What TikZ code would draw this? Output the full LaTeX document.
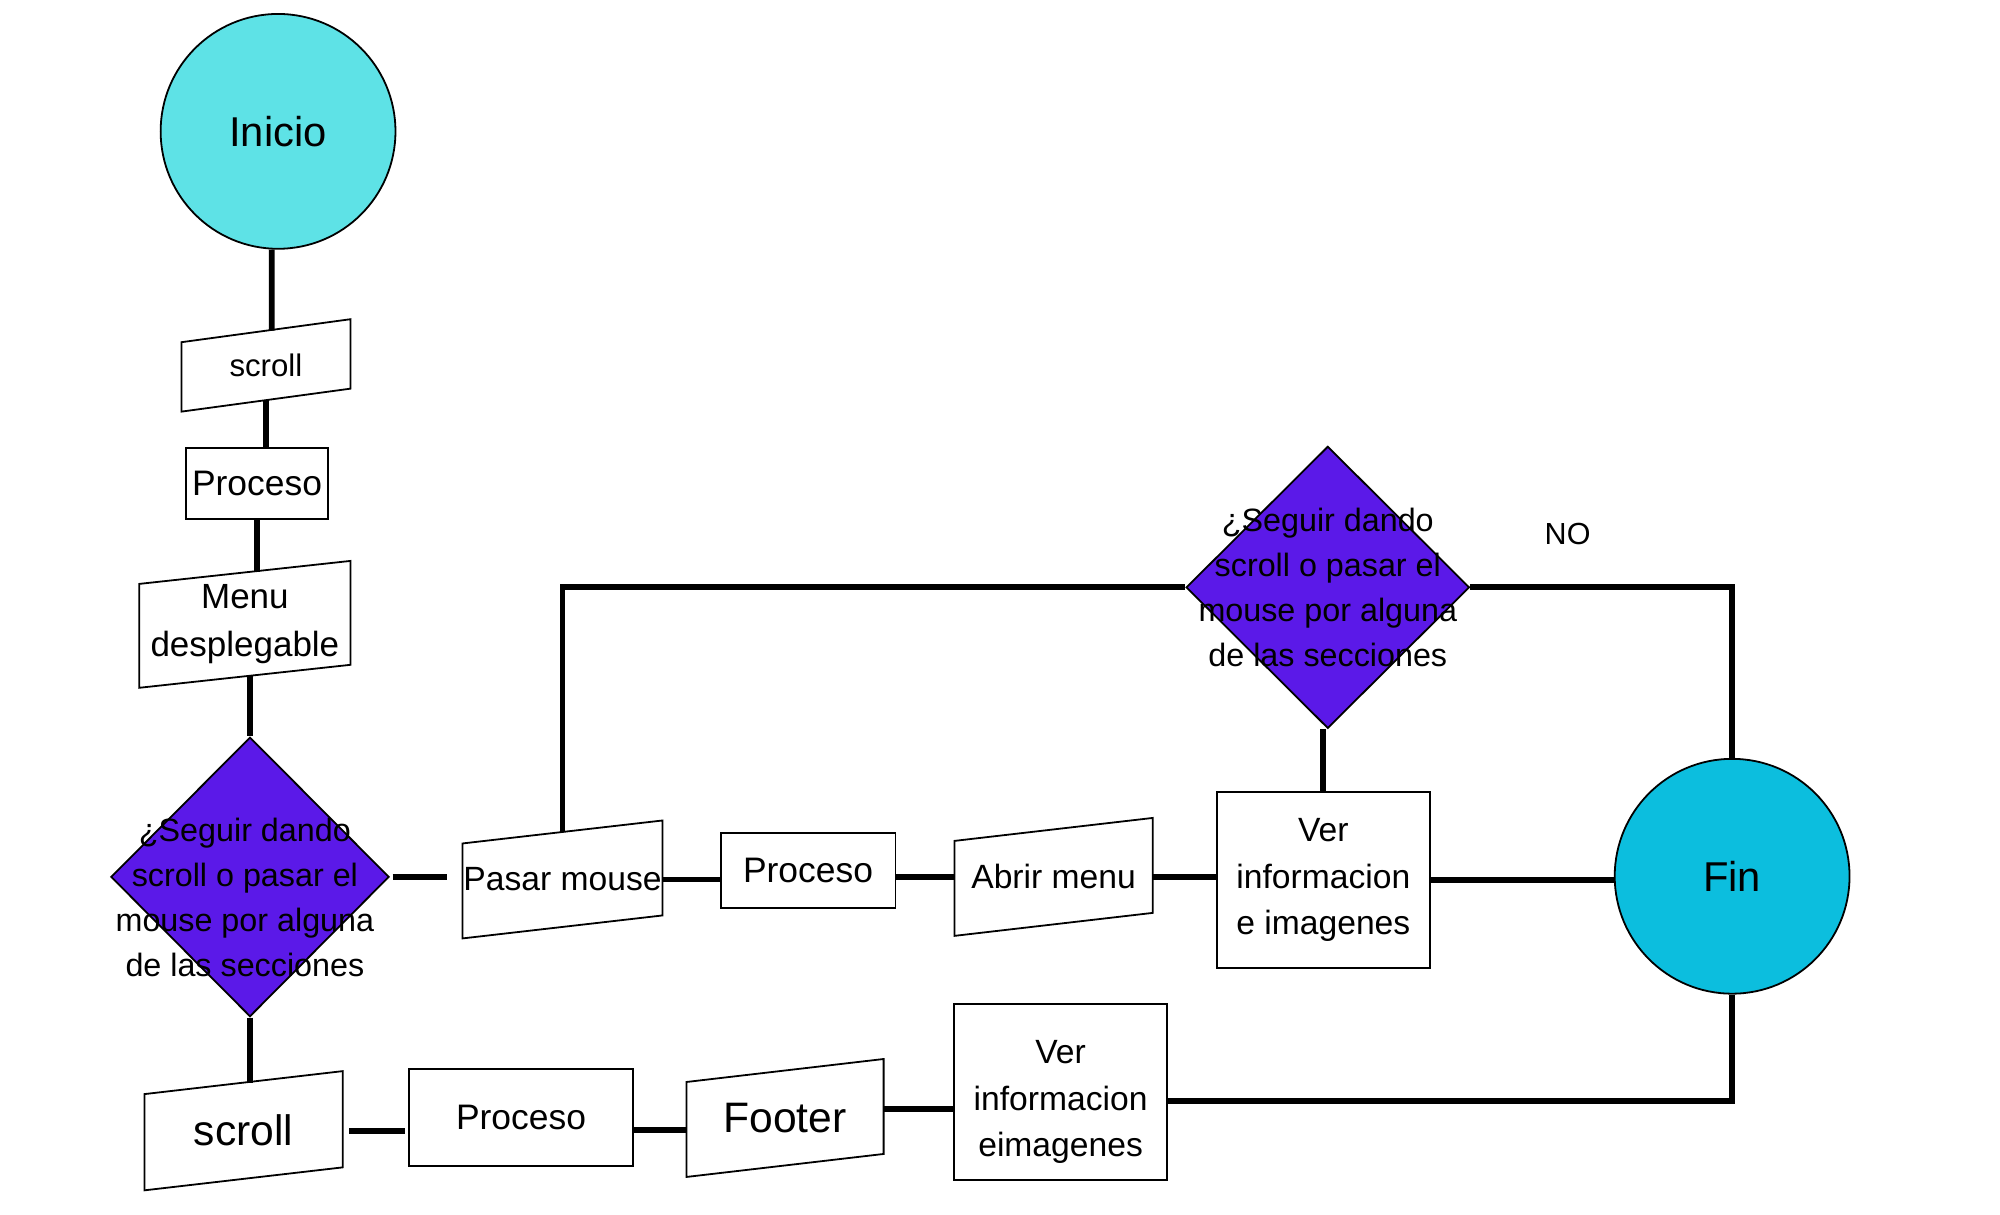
\documentclass[tikz,border=0pt]{standalone}
\usepackage{fontspec}
\setmainfont{Liberation Sans}
\usetikzlibrary{shapes.geometric}
\definecolor{cielo}{RGB}{94,226,230}
\definecolor{celeste}{RGB}{12,190,222}
\definecolor{morado}{RGB}{91,25,232}
\newcommand\fsz[2]{\fontsize{#1}{#2}\selectfont}
% paralelogramo (entrada/salida) alrededor de un nodo
\newcommand\iobox[1]{\draw[line width=0.4pt] ([yshift=-0.09cm]#1.north west) -- ([yshift=0.09cm]#1.north east) -- ([yshift=0.09cm]#1.south east) -- ([yshift=-0.09cm]#1.south west) -- cycle;}
\tikzset{
  proc/.style={draw, line width=0.4pt, inner sep=0pt, align=center},
  io/.style={inner sep=0pt, align=center},
  dec/.style={diamond, draw, line width=0.4pt, fill=morado, inner sep=0pt, minimum width=2.18cm, minimum height=2.19cm},
  dectext/.style={align=center, font=\fsz{7.2}{10}},
  vertext/.style={align=center, font=\fsz{7.5}{10.4}},
  term/.style={circle, draw, line width=0.4pt, inner sep=0pt, minimum size=1.84cm},
  conn/.style={line width=1.3pt}
}
\begin{document}
\begin{tikzpicture}[x=0.01cm,y=-0.01cm]
  \useasboundingbox (0,0) rectangle (1568,952);
  % columna izquierda
  \node[term, fill=cielo, font=\fsz{9.3}{11}] (inicio) at (218,103) {Inicio};
  \node[io, minimum width=1.31cm, minimum height=0.53cm, font=\fsz{6.95}{8}] (scrollA) at (208.5,286.5) {scroll};
  \node[proc, minimum width=1.11cm, minimum height=0.56cm, font=\fsz{7.9}{9}] (procA) at (201.5,379) {Proceso};
  \node[io, minimum width=1.64cm, minimum height=0.8cm, font=\fsz{7.8}{10.8}] (menu) at (192,489.5) {Menu\\desplegable};
  \node[dec, label={[dectext, xshift=-0.04cm, yshift=-0.16cm]center:{¿Seguir dando\\scroll o pasar el\\mouse por alguna\\de las secciones}}] (decA) at (196,687.5) {};
  % fila de abajo
  \node[io, minimum width=1.54cm, minimum height=0.74cm, font=\fsz{9.5}{11}] (scrollB) at (191,886.5) {scroll};
  \node[proc, minimum width=1.75cm, minimum height=0.76cm, font=\fsz{7.9}{9}] (procC) at (408.5,876) {Proceso};
  \node[io, minimum width=1.53cm, minimum height=0.73cm, font=\fsz{9.5}{11}] (footer) at (615.5,876.5) {Footer};
  \node[proc, minimum width=1.67cm, minimum height=1.38cm, label={[vertext, yshift=-0.08cm]center:{Ver\\informacion\\eimagenes}}] (verB) at (831.5,856) {};
  % fila del medio
  \node[io, minimum width=1.54cm, minimum height=0.73cm, font=\fsz{7.5}{9}] (pasar) at (441,689.5) {Pasar mouse};
  \node[proc, minimum width=1.37cm, minimum height=0.59cm, font=\fsz{7.9}{9}] (procB) at (633.5,682.5) {Proceso};
  \node[io, minimum width=1.54cm, minimum height=0.73cm, font=\fsz{7.5}{9}] (abrir) at (826,687.5) {Abrir menu};
  \node[proc, minimum width=1.67cm, minimum height=1.38cm, font=\fsz{7.5}{10.4}] (verA) at (1037.5,690) {Ver\\informacion\\e imagenes};
  \node[dec, minimum width=2.22cm, minimum height=2.21cm, label={[dectext]center:{¿Seguir dando\\scroll o pasar el\\mouse por alguna\\de las secciones}}] (decB) at (1041,460.5) {};
  \node[term, fill=celeste, font=\fsz{9.3}{11}] (fin) at (1358,687) {Fin};
  \node[font=\fsz{6.8}{8}] (no) at (1229,419) {NO};
  \iobox{scrollA} \iobox{menu} \iobox{scrollB} \iobox{footer} \iobox{pasar} \iobox{abrir}
  % conectores
  \draw[conn] ([xshift=-0.05cm]inicio.south) -- ([xshift=0.045cm]scrollA.north);
  \draw[conn] (scrollA.south) -- (scrollA.south |- procA.north);
  \draw[conn] (procA.south) -- (procA.south |- menu.north);
  \draw[conn] (decA.north |- menu.south) -- (decA.north);
  \draw[conn] (decA.south) -- (decA.south |- scrollB.north);
  \draw[conn, shorten <=0.02cm, shorten >=0.12cm] (decA.east) -- (decA.east -| pasar.west);
  \draw[conn] (pasar.east) -- (pasar.east -| procB.west);
  \draw[conn] (abrir.west -| procB.east) -- (abrir.west);
  \draw[conn] (abrir.east) -- (abrir.east -| verA.west);
  \draw[conn] (verA.east) -- (verA.east -| fin.west);
  \draw[conn] (verA.north) -- (verA.north |- decB.south);
  \draw[conn] (decB.west) -| (pasar.north);
  \draw[conn] (decB.east) -| (fin.north);
  \draw[conn, shorten <=0.05cm, shorten >=0.03cm] (scrollB.east) -- (scrollB.east -| procC.west);
  \draw[conn] ([yshift=-0.1cm]procC.east) -- ([yshift=-0.1cm]procC.east -| footer.west);
  \draw[conn] ([yshift=0.07cm]footer.east) -- ([yshift=0.07cm]footer.east -| verB.west);
  \draw[conn] ([yshift=-0.07cm]verB.east) -| (fin.south);
\end{tikzpicture}
\end{document}
